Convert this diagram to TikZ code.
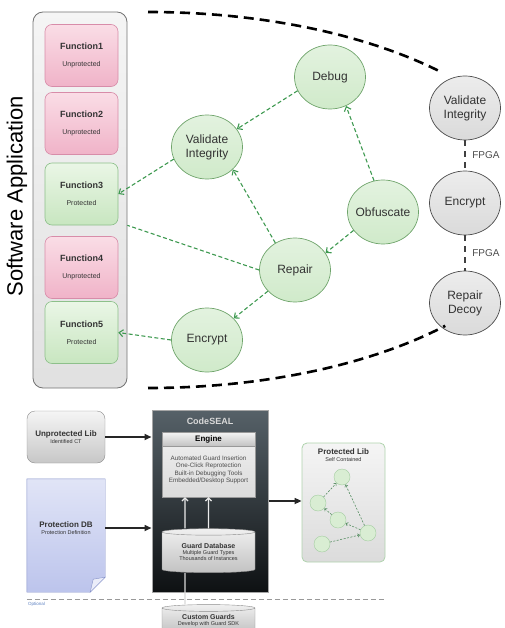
\documentclass[tikz,border=0pt]{standalone}
\usepackage{fontspec}
\setmainfont{Liberation Sans}
\usetikzlibrary{arrows.meta,shapes.geometric,backgrounds}

\definecolor{pinktop}{HTML}{FADDE6}
\definecolor{pinkfill}{HTML}{F0B3C8}
\definecolor{pinkline}{HTML}{D88CA9}
\definecolor{greentop}{HTML}{EAF6E6}
\definecolor{greenfill}{HTML}{C8E6C0}
\definecolor{greenline}{HTML}{8DC08A}
\definecolor{nodegreen}{HTML}{D0EACA}
\definecolor{nodeline}{HTML}{6FA46B}
\definecolor{dashgreen}{HTML}{3E9950}
\definecolor{nodegray}{HTML}{DADADA}
\definecolor{textgray}{HTML}{333333}
\definecolor{sealtop}{HTML}{566168}
\definecolor{sealbottom}{HTML}{0E1113}
\definecolor{docblue}{HTML}{BCC4EC}
\definecolor{docline}{HTML}{8591C8}
\definecolor{optblue}{HTML}{5A7FC0}

\newcommand{\minor}{\fontsize{5.5}{6.5}\selectfont\mdseries}

\begin{document}
\begin{tikzpicture}[x=1pt,y=-1pt,
func/.style={
rectangle,
rounded corners=7pt,
minimum width=73pt,
minimum height=62pt,
align=center,
font=\small\bfseries,
text=textgray,
line width=0.6pt
},
unprot/.style={func,draw=pinkline,top color=pinktop,bottom color=pinkfill},
prot/.style={func,draw=greenline,top color=greentop,bottom color=greenfill},
task/.style={
ellipse,
minimum width=71pt,
minimum height=64pt,
inner sep=1pt,
align=center,
font=\large,
text=textgray,
line width=0.7pt
},
soft/.style={task,draw=nodeline,top color=nodegreen!60!white,bottom color=nodegreen},
hard/.style={task,draw=black!70,top color=nodegray!50!white,bottom color=nodegray},
garrow/.style={->,>={Straight Barb[length=4pt,width=7pt]},dashgreen,line width=1.1pt,dash pattern=on 4pt off 2.5pt},
gline/.style={dashgreen,line width=1.1pt,dash pattern=on 4pt off 2.5pt},
bigarc/.style={line width=2.6pt,dash pattern=on 10pt off 6pt},
fpga/.style={line width=2pt,black!75,dash pattern=on 6pt off 5pt},
libbox/.style={
rectangle,
rounded corners=8pt,
minimum width=78pt,
minimum height=52pt,
draw=black!45,
top color=black!4,
bottom color=black!22,
align=center,
font=\footnotesize\bfseries,
text=black!80
},
store/.style={
cylinder,
shape border rotate=90,
aspect=0.1,
minimum width=93pt,
minimum height=44pt,
draw=black!45,
top color=black!6,
bottom color=black!24,
align=center,
font=\scriptsize\bfseries,
text=black!80
},
dot/.style={circle,minimum size=16pt,inner sep=0pt,draw=greenline!80,fill=greenfill!70!white},
darrow/.style={->,>={Triangle[length=7pt,width=6pt]},line width=1.6pt,black!85},
warrow/.style={->,>={Straight Barb[length=3pt,width=6pt]},line width=1.2pt,white!92!black},
parrow/.style={->,>={Straight Barb[length=2pt,width=3.5pt]},dashgreen!60!gray,line width=0.6pt,dash pattern=on 2pt off 1.5pt}
]

\useasboundingbox (0,0) rectangle (504,628);

\node[rectangle,rounded corners=10pt,minimum width=94pt,minimum height=376pt,draw=black!55,line width=0.8pt,top color=black!4,bottom color=black!12] (app) at (80,200) {};
\node[rotate=90,font=\fontsize{22}{26}\selectfont] (applabel) at (17,196) {Software Application};

\node[unprot] (f1) at (81.5,55.5) {Function1\\[6pt]{\scriptsize\mdseries Unprotected}};
\node[unprot] (f2) at (81.5,123.5) {Function2\\[6pt]{\scriptsize\mdseries Unprotected}};
\node[prot] (f3) at (81.5,194) {Function3\\[6pt]{\scriptsize\mdseries Protected}};
\node[unprot] (f4) at (81.5,267.5) {Function4\\[6pt]{\scriptsize\mdseries Unprotected}};
\node[prot] (f5) at (81.5,332.5) {Function5\\[6pt]{\scriptsize\mdseries Protected}};

\node[soft] (dbg) at (330,77) {Debug};
\node[soft] (vig) at (207,147) {Validate\\Integrity};
\node[soft] (obf) at (383,212) {\makebox[40pt]{Obfuscate}};
\node[soft] (rep) at (295,270) {Repair};
\node[soft] (enc) at (207,340) {Encrypt};

\node[hard] (hvi) at (465,108) {Validate\\Integrity};
\node[hard] (henc) at (465,203) {Encrypt};
\node[hard] (hrd) at (465,303) {Repair\\Decoy};

\draw[garrow] (dbg.203) -- (vig.31);
\draw[garrow] (obf.106) -- (dbg.-61);
\draw[garrow] (obf.212) -- (rep.29);
\draw[garrow] (rep.126) -- (vig.-41);
\draw[garrow] (rep.218) -- (enc.39);
\draw[garrow] (vig.200) -- (f3.east);
\draw[gline] (rep.west) -- (f3.south east -| app.east);
\draw[garrow] (enc.west) -- (f5.east);

\draw[fpga] (hvi) -- (henc) node[midway,right=3pt,text=black!70] (fpga1) {FPGA};
\draw[fpga] (henc) -- (hrd) node[midway,right=3pt,text=black!70] (fpga2) {FPGA};

\draw[bigarc] (148,12) arc[start angle=90,end angle=43,x radius=400pt,y radius=188pt];
\draw[bigarc] (148,388) arc[start angle=-90,end angle=-42,x radius=400pt,y radius=188pt];

\node[libbox] (ulib) at (66,437) {Unprotected Lib\\[-3pt]{\minor Identified CT}};
\node[rectangle,minimum width=78pt,minimum height=113pt] (pdb) at (66,535.5) {};
\node[font=\footnotesize\bfseries,text=black!80,align=center] (pdbtxt) at (66,528) {Protection DB\\[-3pt]{\minor Protection Definition}};
\begin{scope}[on background layer]
\draw[docline,top color=docblue!45!white,bottom color=docblue] (pdb.north west) -- (pdb.north east) -- ([yshift=15pt]pdb.south east) -- ([xshift=-15pt]pdb.south east) -- (pdb.south west) -- cycle;
\draw[docline,fill=docblue!30!white] ([xshift=-15pt]pdb.south east) -- ([xshift=-12pt,yshift=13pt]pdb.south east) -- ([yshift=15pt]pdb.south east) -- cycle;
\end{scope}

\node[rectangle,minimum width=116pt,minimum height=182pt,draw=black!35,line width=1pt,top color=sealtop,bottom color=sealbottom] (cs) at (210,501) {};
\node[font=\small\bfseries,text=black!15] (cstitle) at (210,421) {CodeSEAL};
\node[rectangle,minimum width=93pt,minimum height=65pt,draw=black!40,top color=black!6,bottom color=black!14] (eng) at (208.5,464.5) {};
\node[rectangle,anchor=north,minimum width=93pt,minimum height=13pt,draw=black!40,top color=black!4,bottom color=black!24,font=\footnotesize\bfseries] (enghd) at (eng.north) {Engine};
\node[font=\fontsize{6.3}{7.3}\selectfont,text=black!70,align=center] (engtxt) at (208.5,470) {Automated Guard Insertion\\One-Click Reprotection\\Built-in Debugging Tools\\Embedded/Desktop Support};
\node[store] (gdb) at (208.5,553) {\raisebox{-4pt}{\begin{tabular}{@{}c@{}}Guard Database\\[-2pt]{\minor Multiple Guard Types}\\[-2pt]{\minor Thousands of Instances}\end{tabular}}};
\node[store,minimum height=26pt] (cg) at (208.5,621) {Custom Guards\\[-2pt]{\minor Develop with Guard SDK}};

\draw[warrow] ([xshift=-23.5pt]gdb.north) -- ([xshift=-23.5pt]eng.south);
\draw[warrow] (gdb.north) -- (eng.south);
\draw[line width=1.2pt,white!85!black] ([xshift=-23.5pt]cg.north) -- ([xshift=-23.5pt]gdb.south);

\node[rectangle,rounded corners=5pt,minimum width=83pt,minimum height=119pt,draw=greenline!70,line width=0.8pt,top color=black!4,bottom color=black!14] (plib) at (343.5,502.5) {};
\node[font=\footnotesize\bfseries,text=black!80,align=center] (plibtxt) at (343.5,455) {Protected Lib\\[-3pt]{\minor Self Contained}};
\node[dot] (p1) at (342,477) {};
\node[dot] (p2) at (318,503) {};
\node[dot] (p3) at (338,520) {};
\node[dot] (p4) at (368,533) {};
\node[dot] (p5) at (322,544) {};
\draw[parrow] (p2) -- (p1);
\draw[parrow] (p4) -- (p1);
\draw[parrow] (p3) -- (p2);
\draw[parrow] (p4) -- (p3);
\draw[parrow] (p5) -- (p4);

\draw[darrow] (ulib.east) -- (ulib.east -| cs.west);
\draw[darrow] (pdbtxt.east -| pdb.east) -- (pdbtxt.east -| cs.west);
\draw[darrow] (cs.east) -- (cs.east -| plib.west);

\draw[black!40,line width=0.9pt,dash pattern=on 5pt off 3pt] ([yshift=-7pt]pdb.south west) -- ([yshift=-7pt]pdb.south west -| plib.east);
\node[anchor=north west,font=\fontsize{4.5}{5}\selectfont,text=optblue,inner sep=1pt] (opt) at ([yshift=-9pt]pdb.south west) {Optional};

\end{tikzpicture}
\end{document}
